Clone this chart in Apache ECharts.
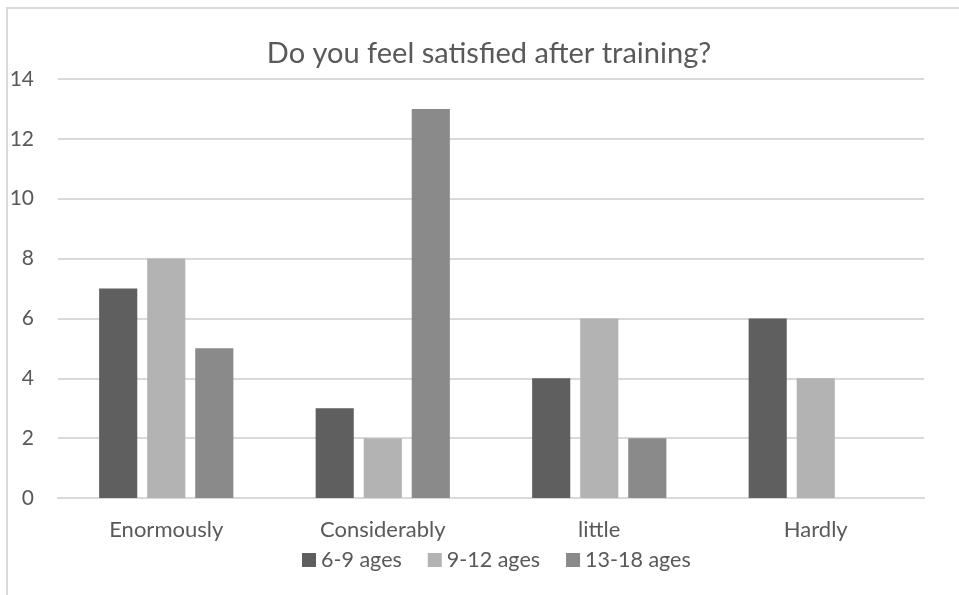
<!DOCTYPE html>
<html>
<head>
<meta charset="utf-8">
<script src="https://cdn.jsdelivr.net/npm/echarts@6/dist/echarts.min.js"></script>
<style>
html,body{margin:0;padding:0;background:#fff;}
#chart{width:959px;height:595px;}
</style>
</head>
<body>
<div id="chart"></div>
<script>
const categories = ['Enormously', 'Considerably', 'little', 'Hardly'];
const seriesNames = ['6-9 ages', '9-12 ages', '13-18 ages'];
const ages6to9 = [7, 3, 4, 6];
const ages9to12 = [8, 2, 6, 4];
const ages13to18 = [5, 13, 2, null];
const yTicks = [0, 2, 4, 6, 8, 10, 12, 14];

const colors = ['#5f5f5f', '#b3b3b3', '#8a8a8a'];
const font = 'Lato, "Open Sans", sans-serif';
const chart = echarts.init(document.getElementById('chart'));
const values = [ages6to9, ages9to12, ages13to18];
chart.setOption({
  animation: false,
  textStyle: { fontFamily: font },
  graphic: [{
    type: 'rect',
    shape: { x: 7, y: 8, width: 1000, height: 1000 },
    style: { fill: 'none', stroke: '#d9d9d9', lineWidth: 2 },
    silent: true
  }],
  title: {
    text: 'Do you feel satisfied after training?',
    left: 484, textAlign: 'center', top: 34,
    textStyle: { fontFamily: font, fontSize: 29, fontWeight: 'normal', color: '#595959' }
  },
  legend: {
    bottom: 19, left: 297,
    itemWidth: 14, itemHeight: 14, itemGap: 26,
    icon: 'rect',
    textStyle: { fontFamily: font, fontSize: 21.5, color: '#595959' },
    data: seriesNames
  },
  grid: { left: 58, right: 35, top: 79, bottom: 97 },
  xAxis: {
    type: 'category', data: categories,
    axisLine: { show: true, lineStyle: { color: '#d9d9d9', width: 2 } },
    axisTick: { show: false },
    axisLabel: { fontFamily: font, fontSize: 22, color: '#595959', margin: 21 }
  },
  yAxis: {
    type: 'value', min: yTicks[0], max: yTicks[yTicks.length - 1], interval: 2,
    axisLine: { show: false }, axisTick: { show: false },
    splitLine: { lineStyle: { color: '#d9d9d9', width: 2 } },
    axisLabel: { fontFamily: font, fontSize: 21, color: '#595959', margin: 24 }
  },
  series: seriesNames.map((n, i) => ({
    name: n, type: 'bar', data: values[i],
    itemStyle: { color: colors[i] },
    barGap: '26%', barCategoryGap: '38%'
  }))
});
</script>
</body>
</html>
